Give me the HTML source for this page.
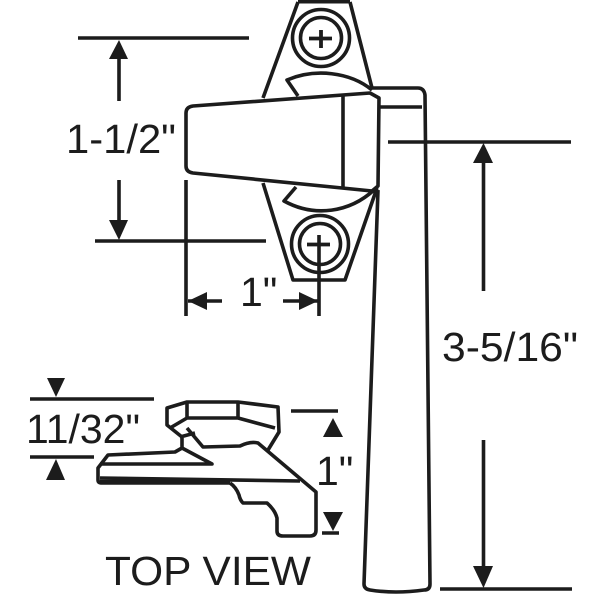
<!DOCTYPE html>
<html><head><meta charset="utf-8"><style>
html,body{margin:0;padding:0;background:#fff}
svg{display:block}
text{font-family:"Liberation Sans",sans-serif;fill:#1c1c1c}
</style></head><body>
<svg width="600" height="600" viewBox="0 0 600 600" xmlns="http://www.w3.org/2000/svg">
<rect width="600" height="600" fill="#fff"/>
<g fill="none" stroke="#1c1c1c" stroke-width="3.6" stroke-linejoin="round" stroke-linecap="butt">
<!-- plates -->
<path d="M298 2L263 98M350 2L372 88"/>
<path d="M298 1.500H350" stroke-width="4"/>
<path d="M263 183L293 280H345L377 188"/>
<circle cx="321" cy="38" r="28.500"/><circle cx="321" cy="38" r="20.500"/>
<path d="M309 38.500H332M321 30V48" stroke-width="3.800"/>
<circle cx="320" cy="244" r="28.500"/><circle cx="320" cy="244" r="20.500"/>
<path d="M307 244.500H330" stroke-width="3.800"/>
<!-- arcs -->
<path d="M298 96L287 80C315 68 350 72 372 90"/>
<path d="M296 187L284 201C315 218 350 212 374 190"/>
<!-- lever -->
<path d="M372 88H418Q424 88 425 95L430 584Q430 590 424 590Q395 594 370 590Q364 589 364 584L378 190"/>
<path d="M380 107H422"/>
<!-- handle -->
<path d="M193 106L370 93L379 98L378 186L372 191L193 173Q186 172 186 166V113Q186 107 193 106Z" fill="#fff"/>
<path d="M343 95V187"/>
<!-- dimension lines -->
<path d="M78 38H249M95 241H266M186 180V316M319 235V316M388 142H571M440 589H572"/>
<path d="M119 58V101M119 180V222M188 301H222M283 301H318M483.500 160V291M483.500 440V570"/>
<path d="M30 399H154M30 457H94M291 411H338M322 533H339"/>
<!-- top view part -->
<path d="M182 437L167 425V408L187 402H238L278 407L279 432L268 450"/>
<path d="M170 428L187 418H238L275 428M187 402V418M238 402V418"/>
<path d="M180 437L195 433M187 428L203 447L240 446Q250 441 258 443L316 492V530Q316 536 310 536H283Q277 536 277 531V518Q275 510 267 503H243Q240 500 239 495Q236 487 230 483"/>
<path d="M182 438V448L175 452L108 455L98 468V480Q98 483 102 483H230"/>
<path d="M100 464H212L182 448"/>
<path d="M100 478L300 481"/>
<path d="M100 482H228" stroke-width="4.500"/>
</g>
<g fill="#1c1c1c">
<path d="M119 40L109 59H128Z"/><path d="M119 240L109 220H128Z"/>
<path d="M188 301L207 292V310Z"/><path d="M318 301L299 292V310Z"/>
<path d="M483.500 143L473 163H493Z"/><path d="M483.500 588L473 566H493Z"/>
<path d="M56 397L47 378H65Z"/><path d="M56 459L46 480H65Z"/>
<path d="M333 418L323 437H343Z"/><path d="M333 531L323 512H343Z"/>
</g>
<!-- labels -->
<text x="66" y="153" font-size="41" textLength="110" lengthAdjust="spacingAndGlyphs">1-1/2"</text>
<text x="240" y="306" font-size="41">1"</text>
<text x="442" y="361" font-size="41" textLength="136" lengthAdjust="spacingAndGlyphs">3-5/16"</text>
<text x="26" y="443" font-size="41" textLength="114" lengthAdjust="spacingAndGlyphs">11/32"</text>
<text x="316" y="485" font-size="41">1"</text>
<text x="105" y="585" font-size="41" textLength="206" lengthAdjust="spacingAndGlyphs">TOP VIEW</text>
</svg>
</body></html>
